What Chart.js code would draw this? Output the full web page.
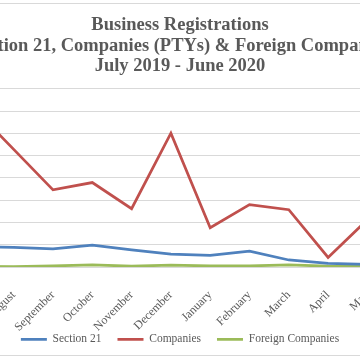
<!DOCTYPE html>
<html>
<head>
<meta charset="utf-8">
<script src="https://cdn.jsdelivr.net/npm/chart.js@4"></script>
<style>
  html, body { margin: 0; padding: 0; background: #fff; overflow: hidden; }
  body { width: 360px; height: 360px; position: relative; }
  /* the chart is wider than the window, as in the cropped reference */
  #frame { position: absolute; left: -90px; top: 3px; width: 540px; height: 353px;
           border: 1px solid #d9d9d9; box-sizing: border-box; }
  #wrap  { position: absolute; left: -90px; top: 0; width: 540px; height: 360px; }
</style>
</head>
<body>
<div id="frame"></div>
<div id="wrap"><canvas id="chart"></canvas></div>
<script>
// Business registrations per month, July 2019 - June 2020
const MONTHS = ["July", "August", "September", "October", "November", "December",
                "January", "February", "March", "April", "May", "June"];

const SECTION_21 = [4600, 4400, 4070, 4900, 3840, 2870, 2640, 3550, 1580, 840, 610, 700];
const COMPANIES  = [35500, 26440, 17330, 18980, 13100, 30060, 8810, 14010, 12880, 2150, 10620, 15000];
const FOREIGN    = [150, 100, 250, 450, 200, 400, 250, 250, 450, 200, 150, 200];

const TITLE_LINES = [
    "Business Registrations",
    "Section 21, Companies (PTYs) & Foreign Companies",
    "July 2019 - June 2020"
];

const Y_MAX  = 40000;
const Y_STEP = 5000;

const TEXT_GREY = "#595959";
const GRID_GREY = "#d9d9d9";
const SERIF = "'Liberation Serif', serif";

function lineSet(label, data, color) {
    return {
        label,
        data,
        borderColor: color,
        backgroundColor: color,
        borderWidth: 2.75,
        pointRadius: 0,
        tension: 0
    };
}

// Month labels hang into the legend's top padding, so let them draw past the axis box
const labelRoom = {
    id: "labelRoom",
    afterLayout(chart) {
        chart.scales.x.bottom = chart.height;
    }
};

new Chart(document.getElementById("chart"), {
    type: "line",
    data: {
        labels: MONTHS,
        datasets: [
            lineSet("Section 21", SECTION_21, "#4f81bd"),
            lineSet("Companies", COMPANIES, "#c0504d"),
            lineSet("Foreign Companies", FOREIGN, "#9bbb59")
        ]
    },
    plugins: [labelRoom],
    options: {
        responsive: true,
        maintainAspectRatio: false,
        animation: false,
        layout: { padding: { left: 0, right: 0, top: 0, bottom: 5 } },
        plugins: {
            title: {
                display: true,
                text: TITLE_LINES,
                color: TEXT_GREY,
                font: { family: SERIF, size: 18.5, weight: "bold", lineHeight: 1.09 },
                padding: { top: 15.5, bottom: 13 }
            },
            legend: {
                position: "bottom",
                labels: {
                    color: TEXT_GREY,
                    font: { family: SERIF, size: 11.5 },
                    usePointStyle: true,
                    pointStyle: "line",
                    pointStyleWidth: 26,
                    padding: 16
                }
            },
            tooltip: { enabled: false }
        },
        scales: {
            x: {
                offset: true,
                grid: { display: false },
                border: { color: GRID_GREY },
                ticks: {
                    color: TEXT_GREY,
                    font: { family: SERIF, size: 12 },
                    minRotation: 45,
                    maxRotation: 45,
                    autoSkip: false,
                    padding: 13
                },
                afterFit: (axis) => { axis.height = 50.5; }
            },
            y: {
                min: 0,
                max: Y_MAX,
                grid: { color: GRID_GREY, drawTicks: false },
                border: { display: false },
                ticks: {
                    stepSize: Y_STEP,
                    color: TEXT_GREY,
                    font: { family: SERIF, size: 12 },
                    padding: 6
                },
                afterFit: (axis) => { axis.width = 44.75; }
            },
            // empty right margin, kept as an axis so the title and legend stay centred
            yRight: {
                position: "right",
                grid: { display: false },
                border: { display: false },
                ticks: { display: false },
                afterFit: (axis) => { axis.width = 23.65; }
            }
        }
    }
});
</script>
</body>
</html>
